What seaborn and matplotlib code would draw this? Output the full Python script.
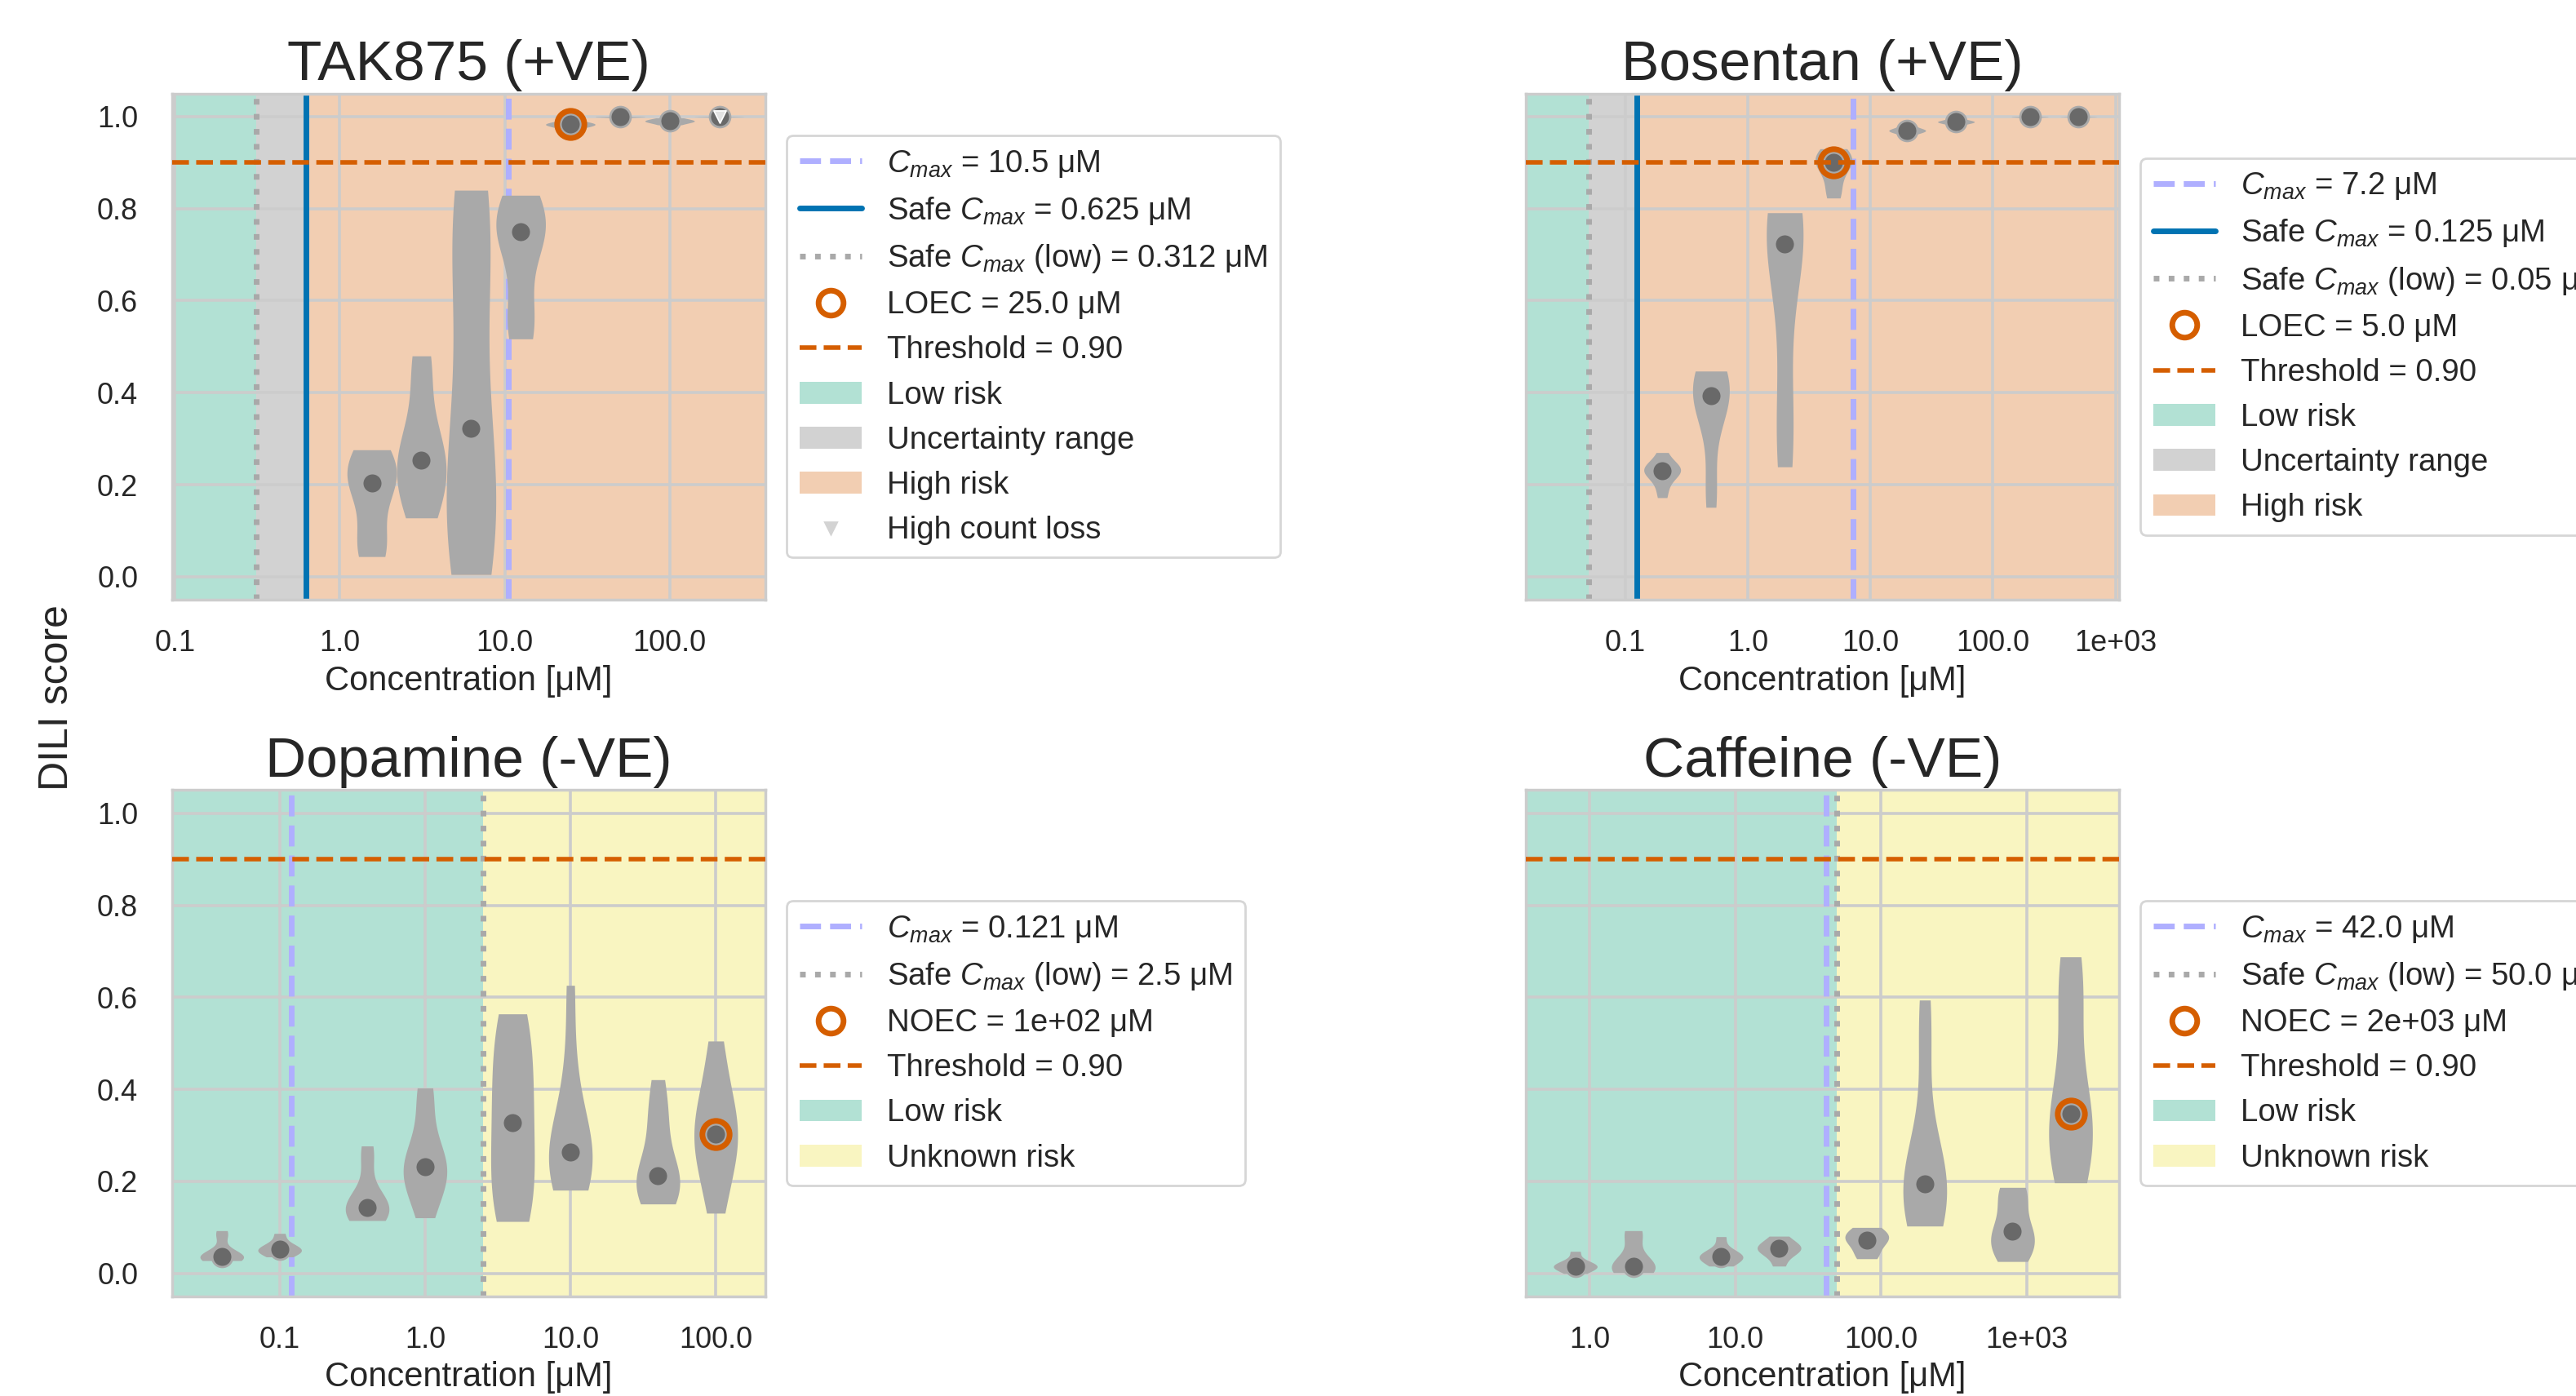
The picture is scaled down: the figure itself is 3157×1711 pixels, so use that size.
import matplotlib.pyplot as plt
import numpy as np
import pandas as pd
import seaborn as sns
from matplotlib.lines import Line2D
from matplotlib.patches import Patch
from matplotlib.ticker import FuncFormatter, LogLocator

# ---- data ----
compounds = ["TAK875", "Bosentan", "Dopamine", "Caffeine"]
dili_class = ["+VE", "+VE", "-VE", "-VE"]

tak875_conc = [1.5625, 3.125, 6.25, 12.5, 25.0, 50.0, 100.0, 200.0]
tak875_scores = [
    [0.044, 0.065, 0.085, 0.18, 0.204, 0.215, 0.235, 0.255, 0.276],
    [0.128, 0.16, 0.2, 0.23, 0.254, 0.28, 0.31, 0.44, 0.48],
    [0.005, 0.03, 0.07, 0.12, 0.18, 0.25, 0.322, 0.42, 0.6, 0.72, 0.77, 0.81, 0.84],
    [0.517, 0.55, 0.58, 0.72, 0.749, 0.76, 0.77, 0.79, 0.829],
    [0.975, 0.98, 0.983, 0.985, 0.99],
    [0.996, 0.999, 1.0, 1.0, 1.0],
    [0.982, 0.988, 0.99, 0.992, 0.997],
    [0.997, 1.0, 1.0, 1.0, 1.0],
]

bosentan_conc = [0.2, 0.5, 2.0, 5.0, 20.0, 50.0, 200.0, 500.0]
bosentan_scores = [
    [0.172, 0.2, 0.228, 0.23, 0.232, 0.235, 0.238, 0.27],
    [0.151, 0.21, 0.34, 0.38, 0.394, 0.405, 0.42, 0.435, 0.447],
    [0.239, 0.27, 0.32, 0.42, 0.55, 0.7, 0.724, 0.735, 0.75, 0.76, 0.775, 0.785, 0.791],
    [0.823, 0.85, 0.89, 0.9, 0.905, 0.915, 0.93],
    [0.962, 0.968, 0.97, 0.972, 0.98],
    [0.983, 0.987, 0.989, 0.99, 0.995],
    [0.996, 0.999, 1.0, 1.0, 1.0],
    [0.997, 1.0, 1.0, 1.0, 1.0],
]

dopamine_conc = [0.04, 0.1, 0.4, 1.0, 4.0, 10.0, 40.0, 100.0]
dopamine_scores = [
    [0.028, 0.032, 0.034, 0.036, 0.037, 0.039, 0.042, 0.08, 0.093],
    [0.036, 0.045, 0.049, 0.052, 0.055, 0.065, 0.087],
    [0.115, 0.125, 0.132, 0.14, 0.143, 0.155, 0.17, 0.245, 0.277],
    [0.121, 0.18, 0.2, 0.22, 0.232, 0.25, 0.27, 0.37, 0.403],
    [0.113, 0.12, 0.16, 0.2, 0.24, 0.28, 0.328, 0.37, 0.41, 0.45, 0.5, 0.555, 0.564],
    [0.181, 0.2, 0.23, 0.25, 0.264, 0.29, 0.34, 0.45, 0.626],
    [0.151, 0.17, 0.19, 0.2, 0.212, 0.23, 0.32, 0.35, 0.421],
    [0.131, 0.2, 0.25, 0.28, 0.302, 0.33, 0.37, 0.42, 0.505],
]

caffeine_conc = [0.8, 2.0, 8.0, 20.0, 80.0, 200.0, 800.0, 2000.0]
caffeine_scores = [
    [0.0, 0.01, 0.014, 0.016, 0.018, 0.025, 0.048],
    [0.002, 0.01, 0.014, 0.016, 0.022, 0.08, 0.093],
    [0.016, 0.028, 0.034, 0.037, 0.04, 0.048, 0.08],
    [0.016, 0.04, 0.05, 0.054, 0.058, 0.065, 0.081],
    [0.032, 0.045, 0.068, 0.072, 0.08, 0.09, 0.1],
    [0.103, 0.13, 0.16, 0.18, 0.195, 0.22, 0.26, 0.48, 0.594],
    [0.026, 0.04, 0.06, 0.08, 0.091, 0.1, 0.16, 0.175, 0.187],
    [0.197, 0.24, 0.29, 0.32, 0.347, 0.38, 0.58, 0.62, 0.688],
]

all_conc = [tak875_conc, bosentan_conc, dopamine_conc, caffeine_conc]
all_scores = [tak875_scores, bosentan_scores, dopamine_scores, caffeine_scores]

cmax = [10.5, 7.2, 0.121, 42.0]
safe_cmax = [0.625, 0.125, None, None]
safe_cmax_low = [0.3125, 0.05, 2.5, 50.0]
ec_kind = ["LOEC", "LOEC", "NOEC", "NOEC"]
ec_conc = [25.0, 5.0, 100.0, 2000.0]
high_count_loss = [[200.0], [], [], []]
threshold = 0.90

x_limits = [(0.0962, 380.0), (0.0154, 1070.0), (0.0182, 219.0), (0.366, 4300.0)]

# ---- style ----
LOW_C = "#029e73"
UNC_C = "#808080"
HIGH_C = "#d55e00"
UNK_C = "#ece133"
CMAX_C = "#afafff"
SAFE_C = "#0173b2"
LOWLINE_C = "darkgray"
THR_C = "#d55e00"

sns.set_theme(style="whitegrid", rc={"grid.linewidth": 1.3, "axes.edgecolor": "0.8"})
plt.rcParams["font.family"] = ["Liberation Sans", "DejaVu Sans"]
plt.rcParams["mathtext.fontset"] = "custom"
plt.rcParams["mathtext.rm"] = "Liberation Sans"
plt.rcParams["mathtext.it"] = "Liberation Sans:italic"

fig, axes = plt.subplots(2, 2, figsize=(15.785, 8.555), sharey=True)
fig.subplots_adjust(left=0.0668, right=0.8226, top=0.933, bottom=0.0713,
                    wspace=1.282, hspace=0.376)

for i, ax in enumerate(axes.flat):
    conc = all_conc[i]
    scores = all_scores[i]
    lo, hi = x_limits[i]
    positive = dili_class[i] == "+VE"
    ax.set_xscale("log")

    # risk regions
    if positive:
        ax.axvspan(lo, safe_cmax_low[i], color=LOW_C, alpha=0.3, lw=0, zorder=0)
        ax.axvspan(safe_cmax_low[i], safe_cmax[i], color=UNC_C, alpha=0.35, lw=0, zorder=0)
        ax.axvspan(safe_cmax[i], hi, color=HIGH_C, alpha=0.3, lw=0, zorder=0)
    else:
        ax.axvspan(lo, safe_cmax_low[i], color=LOW_C, alpha=0.3, lw=0, zorder=0)
        ax.axvspan(safe_cmax_low[i], hi, color=UNK_C, alpha=0.3, lw=0, zorder=0)

    ax.axvline(cmax[i], color=CMAX_C, ls="--", lw=2.5, zorder=1)
    if safe_cmax[i] is not None:
        ax.axvline(safe_cmax[i], color=SAFE_C, ls="-", lw=2.5, zorder=1)
    ax.axvline(safe_cmax_low[i], color=LOWLINE_C, ls=":", lw=2.5, zorder=1)

    df = pd.DataFrame({
        "conc": np.repeat(conc, [len(s) for s in scores]),
        "score": np.concatenate(scores),
    })
    width = 0.30 / np.diff(np.log10(conc)).min()
    sns.violinplot(data=df, x="conc", y="score", native_scale=True, cut=0,
                   inner=None, density_norm="width", width=width,
                   color="darkgray", saturation=1, linewidth=0, ax=ax)

    med = df.groupby("conc", as_index=False)["score"].median()
    sns.scatterplot(data=med, x="conc", y="score", color="dimgray",
                    edgecolor="darkgray", linewidth=1, s=80, zorder=2,
                    legend=False, ax=ax)

    ax.axhline(threshold, color=THR_C, ls="--", lw=2, zorder=3)

    ec_y = med.loc[np.isclose(med["conc"], ec_conc[i]), "score"].values
    ax.plot([ec_conc[i]] * len(ec_y), ec_y, "o", mfc="none", mec=THR_C,
            ms=12, mew=2.5, zorder=4)

    if high_count_loss[i]:
        hc_y = med.loc[med["conc"].isin(high_count_loss[i]), "score"].values
        ax.scatter(high_count_loss[i], hc_y, marker="v", s=30,
                   facecolor="#e2e2e2", edgecolor="white", linewidth=0.6, zorder=5)

    ax.set_xlim(lo, hi)
    ax.set_ylim(-0.05, 1.05)
    ax.set_yticks(np.arange(0, 1.01, 0.2))
    ax.xaxis.set_major_locator(LogLocator(base=10))
    ax.xaxis.set_major_formatter(FuncFormatter(lambda x, _: f"{float(x):.4}"))
    ax.xaxis.set_minor_locator(plt.NullLocator())
    ax.tick_params(axis="x", labelsize=13, pad=7)
    ax.tick_params(axis="y", labelsize=13, pad=9)
    ax.set_xlabel("Concentration [μM]", fontsize=15, labelpad=3)
    ax.set_ylabel("")
    ax.set_title(f"{compounds[i]} ({dili_class[i]})", fontsize=25, pad=6)

    # legend
    handles = [Line2D([], [], color=CMAX_C, ls="--", lw=2.5,
                      label=f"$C_{{max}}$ = {cmax[i]:.3} μM")]
    if safe_cmax[i] is not None:
        handles.append(Line2D([], [], color=SAFE_C, lw=2.5,
                              label=f"Safe $C_{{max}}$ = {safe_cmax[i]:.3} μM"))
    handles.append(Line2D([], [], color=LOWLINE_C, ls=":", lw=2.5,
                          label=f"Safe $C_{{max}}$ (low) = {safe_cmax_low[i]:.3} μM"))
    handles.append(Line2D([], [], ls="none", marker="o", mfc="none", mec=THR_C,
                          ms=11, mew=2.5, label=f"{ec_kind[i]} = {ec_conc[i]:.3} μM"))
    handles.append(Line2D([], [], color=THR_C, ls="--", lw=2,
                          label=f"Threshold = {threshold:.2f}"))
    handles.append(Patch(color=LOW_C, alpha=0.3, lw=0, label="Low risk"))
    if positive:
        handles.append(Patch(color=UNC_C, alpha=0.35, lw=0, label="Uncertainty range"))
        handles.append(Patch(color=HIGH_C, alpha=0.3, lw=0, label="High risk"))
    else:
        handles.append(Patch(color=UNK_C, alpha=0.3, lw=0, label="Unknown risk"))
    if high_count_loss[i]:
        handles.append(Line2D([], [], ls="none", marker="v", color="lightgray",
                              ms=5, label="High count loss"))
    ax.legend(handles=handles, loc="center left", bbox_to_anchor=(1.01, 0.5),
              fontsize=13.8, frameon=True)

fig.supylabel("DILI score", fontsize=18, x=0.015)

fig.savefig("out.png", dpi=200)
